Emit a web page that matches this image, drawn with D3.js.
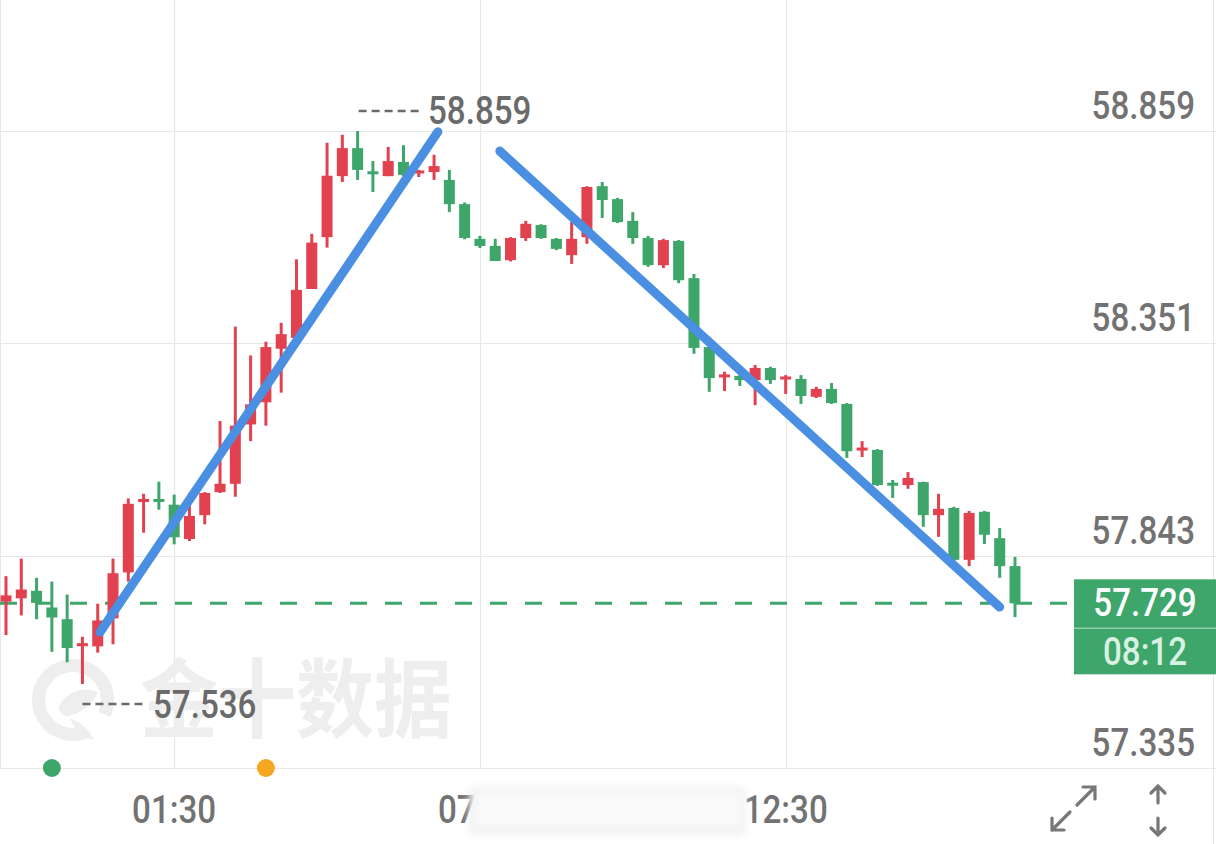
<!DOCTYPE html>
<html><head><meta charset="utf-8">
<script src="https://cdn.jsdelivr.net/npm/d3@7"></script>
<style>body{margin:0;background:#fff;overflow:hidden}svg{display:block}</style>
</head><body>
<svg id="c" width="1216" height="844"></svg>
<script>
// ---- data ----
const opens  = [57.733,57.741,57.759,57.719,57.691,57.626,57.626,57.693,57.803,57.969,57.975,57.965,57.883,57.940,57.995,58.015,58.157,58.210,58.338,58.364,58.481,58.605,58.751,58.818,58.759,58.751,58.785,58.759,58.761,58.742,58.684,58.601,58.584,58.550,58.603,58.634,58.601,58.562,58.605,58.727,58.696,58.644,58.603,58.538,58.596,58.507,58.342,58.268,58.273,58.263,58.292,58.263,58.266,58.223,58.242,58.206,58.091,58.096,58.014,58.012,58.019,57.940,57.957,57.833,57.948,57.885,57.818];
const highs  = [57.794,57.836,57.790,57.781,57.750,57.649,57.728,57.836,57.980,57.991,58.020,57.989,57.993,57.995,58.165,58.391,58.322,58.355,58.400,58.552,58.613,58.831,58.850,58.859,58.787,58.821,58.825,58.766,58.802,58.766,58.688,58.608,58.601,58.605,58.644,58.636,58.603,58.641,58.727,58.737,58.699,58.665,58.608,58.601,58.598,58.517,58.366,58.283,58.278,58.299,58.295,58.275,58.275,58.247,58.256,58.208,58.117,58.098,58.024,58.043,58.020,57.991,57.960,57.950,57.950,57.909,57.840];
const lows   = [57.653,57.700,57.691,57.613,57.588,57.536,57.611,57.631,57.781,57.898,57.953,57.870,57.878,57.918,57.993,57.984,58.117,58.154,58.233,58.362,58.481,58.580,58.737,58.742,58.713,58.751,58.751,58.749,58.742,58.665,58.600,58.579,58.548,58.547,58.596,58.601,58.574,58.541,58.589,58.651,58.639,58.589,58.534,58.531,58.495,58.326,58.235,58.237,58.249,58.203,58.254,58.230,58.206,58.220,58.206,58.077,58.079,58.010,57.981,58.003,57.912,57.888,57.830,57.818,57.871,57.790,57.696];
const closes = [57.748,57.762,57.730,57.695,57.622,57.630,57.688,57.801,57.967,57.975,57.969,57.887,57.938,57.993,58.015,58.154,58.205,58.342,58.373,58.479,58.592,58.752,58.818,58.766,58.757,58.787,58.754,58.761,58.775,58.684,58.603,58.584,58.548,58.603,58.637,58.603,58.577,58.601,58.725,58.694,58.641,58.603,58.538,58.598,58.502,58.340,58.268,58.273,58.263,58.292,58.263,58.268,58.225,58.242,58.208,58.093,58.098,58.012,58.010,58.029,57.940,57.955,57.833,57.945,57.893,57.818,57.729];
const priceTicks = [58.859, 58.351, 57.843, 57.335];
const timeTickIdx = [11, 31, 51];
const timeTickLabels = ["01:30", "07:00", "12:30"];
const lastPrice = 57.729;
const countdown = "08:12";
const highIdx = 23, highVal = 58.859;
const lowIdx = 5, lowVal = 57.536;
const trendUp = [[6.15, 57.660], [28.25, 58.857]];
const trendDown = [[32.3, 58.811], [65.0, 57.720]];
const eventIdx = [3, 17];
const eventColors = ["#3ea66b", "#f5a623"];
const watermarkText = "金十数据";

// ---- drawing ----
const W = 1216, H = 844;
const svg = d3.select("#c");
const RED = "#e2414f", GREEN = "#3ea66b", GRID = "#e7e7e7", TXT = "#727272";
const candles = opens.map((o, i) => ({i, o, h: highs[i], l: lows[i], c: closes[i]}));

const x = d3.scaleLinear().domain([0, candles.length - 1]).range([6, 1015]);
const y = d3.scaleLinear().domain([57.335, 58.859]).range([768, 131]);

const defs = svg.append("defs");
defs.append("filter").attr("id", "blur").attr("x", "-10%").attr("y", "-30%").attr("width", "120%").attr("height", "160%")
  .append("feGaussianBlur").attr("stdDeviation", 4);

// frame / grid
const grid = svg.append("g");
grid.selectAll("line.h").data(priceTicks).join("line")
  .attr("x1", 0).attr("x2", W).attr("y1", d => Math.round(y(d)) + 0.5).attr("y2", d => Math.round(y(d)) + 0.5)
  .attr("stroke", GRID).attr("stroke-width", 1.2);
grid.selectAll("line.v").data(timeTickIdx).join("line")
  .attr("x1", d => Math.round(x(d)) + 0.5).attr("x2", d => Math.round(x(d)) + 0.5).attr("y1", 0).attr("y2", y(57.335))
  .attr("stroke", GRID).attr("stroke-width", 1.2);
grid.append("line").attr("x1", 0.5).attr("x2", 0.5).attr("y1", 0).attr("y2", 768).attr("stroke", GRID);
grid.append("line").attr("x1", W - 2.5).attr("x2", W - 2.5).attr("y1", 0).attr("y2", H).attr("stroke", GRID);

// watermark
const wm = svg.append("g").attr("fill", "#eeeeee");
wm.append("path").attr("transform", "translate(73,700)")
  .attr("d", d3.arc().innerRadius(28).outerRadius(41).startAngle(2.75).endAngle(2.75 + 2 * Math.PI - 0.75)());
wm.append("path").attr("d", "M58,708 C66,690 86,686 98,692 C92,706 78,716 64,716 Z M70,718 C80,722 90,730 94,740 C84,738 74,730 70,718 Z");
wm.append("text").attr("x", 140).attr("y", 731).attr("font-family", "Noto Sans CJK SC").attr("font-weight", 700)
  .attr("font-size", 86).attr("textLength", 312).attr("lengthAdjust", "spacingAndGlyphs").text(watermarkText);

// helper for condensed text
function ctext(g, xx, yy, str, anchor, size, fill, weight) {
  return g.append("text").attr("transform", `translate(${xx},${yy}) scale(0.85,1)`)
    .attr("text-anchor", anchor).attr("font-family", "Roboto, 'Noto Sans', sans-serif")
    .attr("font-size", size).attr("font-weight", weight || 500).attr("fill", fill).text(str);
}

// price axis labels
const ax = svg.append("g");
priceTicks.forEach(v => ctext(ax, 1195, y(v) - 12, v.toFixed(3), "end", 39, TXT, 500));

// last price dashed line
svg.append("line").attr("x1", 0).attr("x2", 1074).attr("y1", y(lastPrice)).attr("y2", y(lastPrice))
  .attr("stroke", GREEN).attr("stroke-width", 3).attr("stroke-dasharray", "17,18");

// candles
const cg = svg.append("g");
const bw = 11;
cg.selectAll("line.w").data(candles).join("line")
  .attr("x1", d => x(d.i)).attr("x2", d => x(d.i)).attr("y1", d => y(d.h)).attr("y2", d => y(d.l))
  .attr("stroke", d => d.c >= d.o ? RED : GREEN).attr("stroke-width", 3);
cg.selectAll("rect").data(candles).join("rect")
  .attr("x", d => x(d.i) - bw / 2)
  .attr("y", d => Math.min(y(d.o), y(d.c)) - (Math.abs(y(d.o) - y(d.c)) < 3 ? 1.5 : 0))
  .attr("width", bw)
  .attr("height", d => Math.max(3, Math.abs(y(d.o) - y(d.c))))
  .attr("fill", d => d.c >= d.o ? RED : GREEN);

// high / low markers
const hl = svg.append("g");
hl.append("line").attr("x1", x(highIdx) + 1).attr("x2", 422).attr("y1", y(highVal) - 20).attr("y2", y(highVal) - 20)
  .attr("stroke", "#6a6a6a").attr("stroke-width", 2.4).attr("stroke-dasharray", "8,5");
ctext(hl, 428, y(highVal) - 7, highVal.toFixed(3), "start", 39, "#6a6a6a", 500);
hl.append("line").attr("x1", x(lowIdx)).attr("x2", 147).attr("y1", y(lowVal) + 20).attr("y2", y(lowVal) + 20)
  .attr("stroke", "#6a6a6a").attr("stroke-width", 2.4).attr("stroke-dasharray", "8,5");
ctext(hl, 153, y(lowVal) + 34, lowVal.toFixed(3), "start", 39, "#6a6a6a", 500);

// trend lines
const tl = d3.line().x(d => x(d[0])).y(d => y(d[1]));
[trendUp, trendDown].forEach(t => svg.append("path").attr("d", tl(t)).attr("fill", "none")
  .attr("stroke", "#4a8fe2").attr("stroke-width", 9).attr("stroke-linecap", "round"));

// last price box
const yl = y(lastPrice);
const box = svg.append("g");
box.append("rect").attr("x", 1074).attr("y", yl - 24).attr("width", W - 1074).attr("height", 95).attr("fill", GREEN);
box.append("line").attr("x1", 1074).attr("x2", W).attr("y1", yl + 25).attr("y2", yl + 25).attr("stroke", "#8fd0aa").attr("stroke-width", 1.5);
ctext(box, 1145, yl + 13, lastPrice.toFixed(3), "middle", 39, "#ffffff", 500);
ctext(box, 1145, yl + 62, countdown, "middle", 39, "#d8f1e2", 500);

// event dots
svg.selectAll("circle.ev").data(eventIdx).join("circle")
  .attr("cx", d => x(d)).attr("cy", y(57.335)).attr("r", 9).attr("fill", (d, i) => eventColors[i]);

// time axis labels
const tg = svg.append("g");
timeTickIdx.forEach((d, i) => ctext(tg, x(d), 823, timeTickLabels[i], "middle", 39, TXT, 500));
// blurred patch over the middle label
svg.append("rect").attr("x", 470).attr("y", 788).attr("width", 275).attr("height", 46)
  .attr("fill", "#eeeeee").attr("filter", "url(#blur)");
svg.append("rect").attr("x", 474).attr("y", 792).attr("width", 268).attr("height", 36).attr("fill", "#fafafa").attr("filter", "url(#blur)");

// icons
const ic = svg.append("g").attr("stroke", "#777").attr("stroke-width", 3.2).attr("fill", "none").attr("stroke-linecap", "round");
ic.append("path").attr("d", "M1077,805 L1095,787 M1083,787 L1095,787 L1095,799");
ic.append("path").attr("d", "M1070,812 L1052,830 M1052,818 L1052,830 L1064,830");
ic.append("path").attr("d", "M1158,786 L1158,803 M1151,793 L1158,786 L1165,793");
ic.append("path").attr("d", "M1158,818 L1158,835 M1151,828 L1158,835 L1165,828");
</script>
</body></html>
